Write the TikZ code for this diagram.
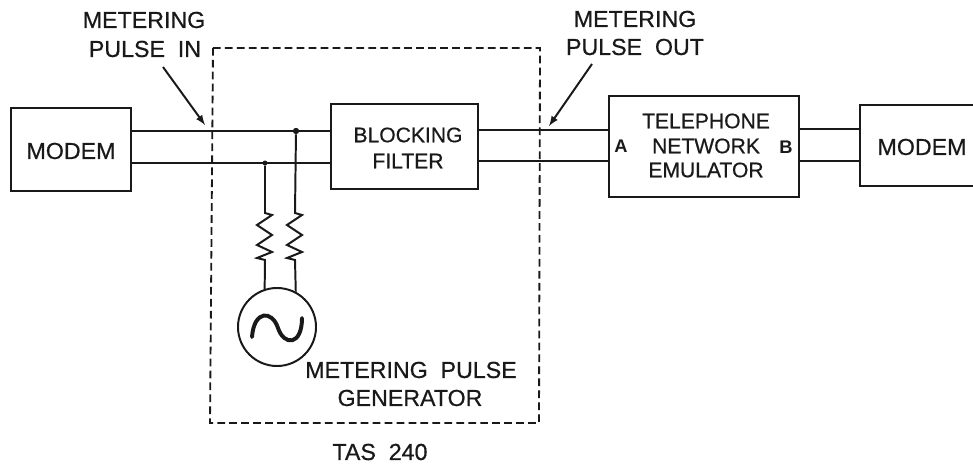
\documentclass[tikz,border=0pt]{standalone}
\usepackage{fontspec}
\setmainfont{Liberation Sans}
\newfontfamily\inkfont[FakeBold=0.6]{Liberation Sans}
\usepackage{xcolor}
\usepackage{tikz}
\definecolor{inkcol}{RGB}{25,25,25}
\tikzset{
  lbl/.style={font=\inkfont\fontsize{16.5}{16.5}\selectfont,text=inkcol,inner sep=0pt},
  lblsmall/.style={font=\inkfont\fontsize{15}{15}\selectfont,text=inkcol,inner sep=0pt},
  port/.style={font=\fontsize{13}{13}\selectfont\bfseries,text=inkcol,inner sep=0pt},
  wire/.style={draw=inkcol,line width=1.4pt},
  blockbox/.style={draw=inkcol,line width=1.5pt,inner sep=0pt},
  dotnode/.style={circle,fill=inkcol,inner sep=0pt,minimum size=#1}
}
\begin{document}
\begin{tikzpicture}[x=0.025cm,y=-0.025cm]
  \useasboundingbox (0,0) rectangle (973,465);
  \clip (0,0) rectangle (973,465);
  % Boxes
  \node[blockbox,minimum width=3cm,minimum height=2.075cm] (modemL) at (71,149.5) {};
  \node[blockbox,minimum width=3.675cm,minimum height=2.125cm] (filter) at (404.5,146.5) {};
  \node[blockbox,minimum width=4.75cm,minimum height=2.525cm] (emulator) at (704,146.5) {};
  \node[blockbox,minimum width=3.1cm,minimum height=2.025cm] (modemR) at (922,145.5) {};
  \node[draw=inkcol,line width=1.4pt,circle,inner sep=0pt,minimum size=1.95cm] (gen) at (277,327) {};
  % Box texts
  \node[lbl] (modemLtxt) at (71,151) {MODEM};
  \node[lblsmall] (blocktxt) at (408,135) {BLOCKING};
  \node[lblsmall] (filtertxt) at (408,161) {FILTER};
  \node[lblsmall] (teltxt) at (706,121) {TELEPHONE};
  \node[lblsmall] (nettxt) at (706,146) {NETWORK};
  \node[lblsmall] (emutxt) at (706,170) {EMULATOR};
  \node[port] (portA) at (621,146) {A};
  \node[port] (portB) at (786,147) {B};
  \node[lbl] (modemRtxt) at (922,147) {MODEM};
  % Labels
  \node[lbl] (inA) at (144,20) {METERING};
  \node[lbl] (inB) at (145,49) {PULSE\ \ IN};
  \node[lbl] (outA) at (635,19) {METERING};
  \node[lbl] (outB) at (635,47) {PULSE\ \ OUT};
  \node[lbl] (genA) at (411,370) {METERING\ \ PULSE};
  \node[lbl] (genB) at (410,398) {GENERATOR};
  \node[lbl] (tas) at (380,452) {TAS\ \ 240};
  % Lines between boxes
  \coordinate (topL) at (0,131);
  \coordinate (botL) at (0,163);
  \coordinate (topM) at (0,130);
  \coordinate (botM) at (0,161);
  \coordinate (topR) at (0,129);
  \draw[wire] (modemL.east |- topL) -- (filter.west |- topL);
  \draw[wire] (modemL.east |- botL) -- (filter.west |- botL);
  \draw[wire] (filter.east |- topM) -- (emulator.west |- topM);
  \draw[wire] (filter.east |- botM) -- (emulator.west |- botM);
  \draw[wire] (emulator.east |- topR) -- (modemR.west |- topR);
  \draw[wire] (emulator.east |- botM) -- (modemR.west |- botM);
  % Resistor branches
  \node[dotnode=4.5pt] (jtop) at (296,131) {};
  \node[dotnode=3.5pt] (jbot) at (265,163) {};
  \foreach \junc/\ang/\rx in {jbot/108/265, jtop/62/295}
    \draw[wire] (\junc) -- (\rx,213) -- ++(7,2) -- ++(-15,10) -- ++(15,10) -- ++(-15,10)
      -- ++(15,7) -- ++(-15,6) -- ++(8,2) -- (gen.\ang);
  % Sine in generator
  \draw[draw=inkcol,line width=2.8pt,line cap=round] (252,337) .. controls (254,310) and (272,310) .. (278,328)
    .. controls (284,346) and (302,346) .. (302,318);
  % Dashed enclosure
  \draw[draw=inkcol,line width=1.3pt,dash pattern=on 5.5pt off 3pt] (213,48) -- (540,48) -- (539,423) -- (210,423) -- cycle;
  % Arrows
  \coordinate (inTail) at (163,67);
  \coordinate (inTip) at (205,125);
  \coordinate (outTail) at (592,64);
  \coordinate (outTip) at (549,126);
  \draw[wire,-latex] (inTail) -- (inTip);
  \draw[wire,-latex] (outTail) -- (outTip);
\end{tikzpicture}
\end{document}
